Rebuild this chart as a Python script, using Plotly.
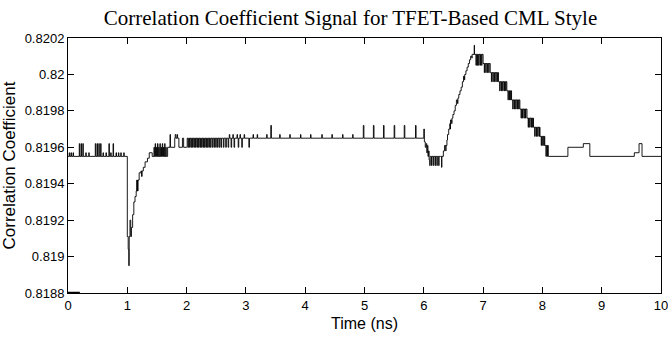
import plotly.graph_objects as go

# ---------------- data ----------------
# 0 - 1 ns : baseline with small spikes
seg_a_t = [0.00, 0.02, 0.028, 0.05, 0.058, 0.085, 0.093, 0.19, 0.198, 0.22, 0.228,
           0.25, 0.258, 0.30, 0.308, 0.35, 0.358, 0.46, 0.468, 0.49, 0.498, 0.52,
           0.528, 0.55, 0.558, 0.59, 0.598, 0.64, 0.648, 0.69, 0.698, 0.72, 0.728,
           0.76, 0.768, 0.81, 0.818, 0.85, 0.858, 0.89, 0.898, 0.94, 0.948]
seg_a_v = [0.81955, 0.81957, 0.81955, 0.81957, 0.81955, 0.81957, 0.81955, 0.81962, 0.81955, 0.81962, 0.81955,
           0.81962, 0.81955, 0.81957, 0.81955, 0.81957, 0.81955, 0.81962, 0.81955, 0.81962, 0.81955, 0.81962,
           0.81955, 0.81962, 0.81955, 0.81957, 0.81955, 0.81957, 0.81955, 0.81962, 0.81955, 0.81957, 0.81955,
           0.81962, 0.81955, 0.81957, 0.81955, 0.81957, 0.81955, 0.81957, 0.81955, 0.81957, 0.81955]

# 1 - 2 ns : dip and recovery
seg_b_t = [1.00, 1.015, 1.025, 1.032, 1.045, 1.058, 1.07, 1.09, 1.11, 1.13, 1.15, 1.16, 1.165,
           1.17, 1.175, 1.18, 1.20, 1.23, 1.24, 1.25, 1.27, 1.30, 1.34, 1.37, 1.42,
           1.45, 1.457, 1.47, 1.477, 1.49, 1.497, 1.51, 1.517, 1.53, 1.537, 1.55, 1.557,
           1.57, 1.577, 1.59, 1.597, 1.61, 1.617, 1.63, 1.637, 1.65, 1.657,
           1.68, 1.72, 1.728, 1.80, 1.808, 1.82, 1.84, 1.848,
           1.87, 1.93, 1.95]
seg_b_v = [0.81911, 0.81904, 0.81895, 0.81911, 0.81920, 0.81911, 0.81916, 0.81923, 0.81930, 0.81933, 0.81936, 0.81942, 0.81936,
           0.81942, 0.81936, 0.81942, 0.81946, 0.81947, 0.81944, 0.81947, 0.81949, 0.81952, 0.81954, 0.81957, 0.81955,
           0.81960, 0.81955, 0.81962, 0.81955, 0.81960, 0.81955, 0.81962, 0.81955, 0.81960, 0.81955, 0.81962, 0.81955,
           0.81960, 0.81955, 0.81962, 0.81955, 0.81960, 0.81955, 0.81962, 0.81955, 0.81960, 0.81955,
           0.81960, 0.81967, 0.81960, 0.81965, 0.81967, 0.81965, 0.81967, 0.81965,
           0.81960, 0.81965, 0.81960]

# 2 - 3.1 ns : upper level with dense downward spikes
seg_c_t = [2.00, 2.01, 2.025, 2.035, 2.05, 2.06, 2.075, 2.085, 2.10, 2.11, 2.125, 2.135,
           2.15, 2.16, 2.175, 2.185, 2.20, 2.21, 2.225, 2.235, 2.25, 2.26, 2.275, 2.285,
           2.30, 2.31, 2.325, 2.335, 2.35, 2.36, 2.375, 2.385, 2.40, 2.41, 2.43, 2.44,
           2.46, 2.47, 2.49, 2.50, 2.52, 2.53, 2.55, 2.56, 2.58, 2.59, 2.62, 2.63,
           2.66, 2.67, 2.70, 2.71, 2.72, 2.728, 2.75, 2.76, 2.78, 2.788, 2.80, 2.81,
           2.85, 2.858, 2.87, 2.88, 2.90, 2.908, 2.93, 2.94, 2.97, 2.978, 3.05, 3.06]
seg_c_v = [0.81960, 0.81965, 0.81960, 0.81965, 0.81960, 0.81965, 0.81960, 0.81965, 0.81960, 0.81965, 0.81960, 0.81965,
           0.81960, 0.81965, 0.81960, 0.81965, 0.81960, 0.81965, 0.81960, 0.81965, 0.81960, 0.81965, 0.81960, 0.81965,
           0.81960, 0.81965, 0.81960, 0.81965, 0.81960, 0.81965, 0.81960, 0.81965, 0.81960, 0.81965, 0.81960, 0.81965,
           0.81960, 0.81965, 0.81960, 0.81965, 0.81960, 0.81965, 0.81960, 0.81965, 0.81960, 0.81965, 0.81960, 0.81965,
           0.81960, 0.81965, 0.81960, 0.81965, 0.81967, 0.81965, 0.81960, 0.81965, 0.81967, 0.81965, 0.81960, 0.81965,
           0.81967, 0.81965, 0.81960, 0.81965, 0.81967, 0.81965, 0.81960, 0.81965, 0.81967, 0.81965, 0.81960, 0.81965]

# 3.1 - 6 ns : flat with periodic spikes
seg_d_t = [3.12, 3.128, 3.19, 3.198, 3.35, 3.358, 3.42, 3.43, 3.57, 3.578, 3.74, 3.748,
           3.92, 3.928, 4.09, 4.098, 4.28, 4.288, 4.45, 4.458, 4.63, 4.638, 4.80, 4.808,
           4.98, 4.99, 5.15, 5.16, 5.32, 5.33, 5.50, 5.51, 5.67, 5.68, 5.86, 5.87]
seg_d_v = [0.81967, 0.81965, 0.81967, 0.81965, 0.81967, 0.81965, 0.81972, 0.81965, 0.81967, 0.81965, 0.81967, 0.81965,
           0.81967, 0.81965, 0.81967, 0.81965, 0.81967, 0.81965, 0.81967, 0.81965, 0.81967, 0.81965, 0.81967, 0.81965,
           0.81972, 0.81965, 0.81972, 0.81965, 0.81972, 0.81965, 0.81972, 0.81965, 0.81972, 0.81965, 0.81972, 0.81965]

# 6 - 6.3 ns : notch
seg_e_t = [6.00, 6.01, 6.025, 6.04, 6.05, 6.06, 6.07, 6.08, 6.09, 6.10, 6.108,
           6.13, 6.138, 6.16, 6.168, 6.19, 6.198, 6.22, 6.228, 6.25, 6.258, 6.28]
seg_e_v = [0.81970, 0.81963, 0.81960, 0.81962, 0.81957, 0.81961, 0.81955, 0.81958, 0.81953, 0.81950, 0.81955,
           0.81950, 0.81955, 0.81950, 0.81955, 0.81950, 0.81955, 0.81950, 0.81955, 0.81950, 0.81955, 0.81955]

# 6.3 - 6.85 ns : rise to peak
seg_f_t = [6.30, 6.305, 6.33, 6.35, 6.37, 6.375, 6.39, 6.40, 6.42, 6.44, 6.445, 6.45, 6.47,
           6.475, 6.49, 6.51, 6.53, 6.55, 6.57, 6.575, 6.59, 6.61, 6.63, 6.65, 6.67, 6.685,
           6.69, 6.71, 6.73, 6.75, 6.77, 6.79, 6.81, 6.815, 6.85]
seg_f_v = [0.81949, 0.81955, 0.81958, 0.81961, 0.81958, 0.81961, 0.81964, 0.81967, 0.81970, 0.81973, 0.81970, 0.81975, 0.81973,
           0.81976, 0.81978, 0.81980, 0.81983, 0.81986, 0.81984, 0.81987, 0.81989, 0.81991, 0.81993, 0.81996, 0.81999, 0.81997,
           0.82000, 0.82002, 0.82004, 0.82006, 0.82008, 0.82010, 0.82009, 0.82011, 0.82016]

# 6.85 - 8.1 ns : stepped decay, each step holds a level with brief dips to the next one
seg_g_t = [6.855, 6.88, 6.886, 6.90, 6.906, 6.925, 6.931, 6.95, 6.956, 6.975, 6.981,
           7.00, 7.02, 7.026, 7.045, 7.051, 7.07, 7.076, 7.095, 7.101,
           7.12, 7.14, 7.146, 7.165, 7.171, 7.19, 7.196, 7.215, 7.221, 7.24, 7.246,
           7.26, 7.28, 7.286, 7.305, 7.311, 7.33, 7.336, 7.355, 7.361, 7.38, 7.386,
           7.40, 7.42, 7.426, 7.445, 7.451, 7.465, 7.471,
           7.48, 7.50, 7.506, 7.525, 7.531, 7.55, 7.556, 7.575, 7.581, 7.60, 7.606,
           7.62, 7.64, 7.646, 7.665, 7.671, 7.69, 7.696, 7.715, 7.721,
           7.74, 7.76, 7.766, 7.785, 7.791, 7.81, 7.816, 7.835, 7.841,
           7.85, 7.87, 7.876, 7.895, 7.901, 7.92, 7.926, 7.945, 7.951,
           7.96, 7.98, 7.986, 8.005, 8.011, 8.025, 8.031,
           8.04, 8.06, 8.066, 8.08, 8.086]
seg_g_v = [0.82011, 0.82005, 0.82011, 0.82005, 0.82011, 0.82005, 0.82011, 0.82005, 0.82011, 0.82005, 0.82011,
           0.82006, 0.82001, 0.82006, 0.82001, 0.82006, 0.82001, 0.82006, 0.82001, 0.82006,
           0.82001, 0.81996, 0.82001, 0.81996, 0.82001, 0.81996, 0.82001, 0.81996, 0.82001, 0.81996, 0.82001,
           0.81996, 0.81991, 0.81996, 0.81991, 0.81996, 0.81991, 0.81996, 0.81991, 0.81996, 0.81991, 0.81996,
           0.81991, 0.81986, 0.81991, 0.81986, 0.81991, 0.81986, 0.81991,
           0.81986, 0.81981, 0.81986, 0.81981, 0.81986, 0.81981, 0.81986, 0.81981, 0.81986, 0.81981, 0.81986,
           0.81981, 0.81976, 0.81981, 0.81976, 0.81981, 0.81976, 0.81981, 0.81976, 0.81981,
           0.81976, 0.81971, 0.81976, 0.81971, 0.81976, 0.81971, 0.81976, 0.81971, 0.81976,
           0.81971, 0.81966, 0.81971, 0.81966, 0.81971, 0.81966, 0.81971, 0.81966, 0.81971,
           0.81966, 0.81961, 0.81966, 0.81961, 0.81966, 0.81961, 0.81966,
           0.81961, 0.81955, 0.81961, 0.81955, 0.81961]

# 8.1 - 10 ns : tail
seg_h_t = [8.10, 8.43, 8.69, 8.80, 9.55, 9.63, 9.68, 10.0]
seg_h_v = [0.81955, 0.81960, 0.81962, 0.81955, 0.81957, 0.81962, 0.81955, 0.81955]

# short segment lying on the lower axis limit at the start
floor_t = [0.0, 0.2]
floor_v = [0.8188, 0.8188]

x_ticks = [0, 1, 2, 3, 4, 5, 6, 7, 8, 9, 10]
y_ticks = [0.8188, 0.8190, 0.8192, 0.8194, 0.8196, 0.8198, 0.8200, 0.8202]
y_tick_text = ["0.8188", "0.819", "0.8192", "0.8194", "0.8196", "0.8198", "0.82", "0.8202"]

# ---------------- figure ----------------
time_ns = seg_a_t + seg_b_t + seg_c_t + seg_d_t + seg_e_t + seg_f_t + seg_g_t + seg_h_t
corr = seg_a_v + seg_b_v + seg_c_v + seg_d_v + seg_e_v + seg_f_v + seg_g_v + seg_h_v

fig = go.Figure()
fig.add_trace(go.Scatter(x=time_ns, y=corr, mode="lines", line_shape="hv",
                         line=dict(color="#000000", width=0.9), showlegend=False,
                         cliponaxis=True))
fig.add_trace(go.Scatter(x=floor_t, y=floor_v, mode="lines",
                         line=dict(color="#000000", width=2.5), showlegend=False,
                         cliponaxis=False))

axis_common = dict(showline=True, linecolor="#000000", linewidth=1, mirror="ticks",
                   ticks="inside", ticklen=6, tickcolor="#000000", tickwidth=1,
                   showgrid=False, zeroline=False, ticklabeloverflow="allow",
                   automargin=False,
                   tickfont=dict(family="Liberation Sans, Arial, sans-serif", size=13, color="#000000"))

fig.update_layout(
    width=668, height=338,
    margin=dict(l=68, r=7, t=38, b=45, autoexpand=False),
    paper_bgcolor="#ffffff", plot_bgcolor="#ffffff",
    title=dict(text="Correlation Coefficient Signal for TFET-Based CML Style",
               x=350.5 / 668, xanchor="center", xref="container", y=1 - 18 / 338, yanchor="middle",
               font=dict(family="Liberation Serif, Times New Roman, serif", size=21, color="#000000")),
    xaxis=dict(range=[0, 10], tickvals=x_ticks, ticktext=[str(v) for v in x_ticks],
               title=dict(text="Time (ns)", standoff=6,
                          font=dict(family="Liberation Sans, Arial, sans-serif", size=16, color="#000000")),
               **axis_common),
    yaxis=dict(range=[0.8188, 0.8202], tickvals=y_ticks, ticktext=y_tick_text,
               title=dict(text="Correlation Coefficient", standoff=4,
                          font=dict(family="Liberation Sans, Arial, sans-serif", size=17, color="#000000")),
               **axis_common),
)

fig.write_html("out.html")
